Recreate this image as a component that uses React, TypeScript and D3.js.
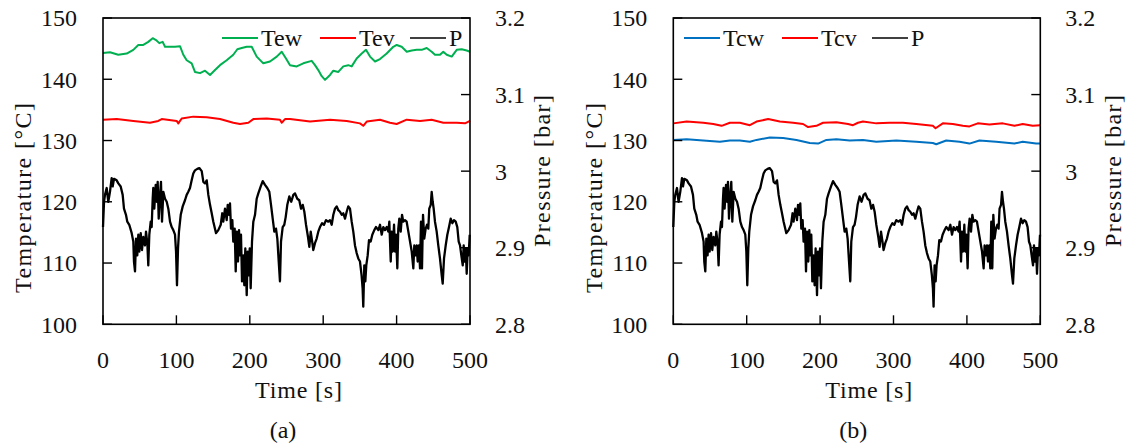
import React from 'react';
import * as d3 from 'd3';

// ---------- data ----------
const timeTicks = [0, 100, 200, 300, 400, 500];
const tempTicks = [100, 110, 120, 130, 140, 150];
const presTicks = [2.8, 2.9, 3.0, 3.1, 3.2];
const presTickLabels = ['2.8', '2.9', '3', '3.1', '3.2'];

// Pressure P [bar] (same in both panels)
const pTime = [
  0, 1.4, 2.7, 5.0, 7.2, 9.5, 11.8, 13.2, 15.0, 18.6, 20.9, 24.1, 26.8, 28.6, 31.3, 33.1, 35.8, 39.1, 41.3, 42.2,
  43.6, 45.0, 46.7, 48.1, 49.5, 51.4, 53.1, 54.9, 57.2, 58.6, 60.4, 61.7, 63.1, 65.0, 66.3, 67.7, 68.5, 69.9, 71.8, 73.2,
  74.5, 75.9, 77.7, 79.0, 80.4, 82.2, 84.5, 86.8, 89.0, 91.3, 93.6, 95.8, 98.1, 99.5, 100.8, 102.2, 103.5, 105.9, 108.6, 111.7,
  114.0, 116.2, 118.5, 120.8, 123.0, 125.3, 128.5, 131.2, 134.5, 136.7, 139.0, 141.3, 143.5, 145.8, 148.1, 150.3, 154.0, 157.1, 160.4, 162.5,
  163.9, 166.2, 168.5, 169.9, 171.7, 173.0, 174.4, 176.2, 177.5, 179.4, 180.8, 182.2, 183.9, 185.3, 186.6, 188.0, 189.4, 191.1, 192.5, 193.9,
  195.8, 197.1, 198.5, 199.9, 201.2, 203.0, 204.8, 207.1, 209.4, 211.6, 214.9, 217.6, 220.7, 223.8, 226.6, 228.9, 231.2, 233.4, 235.7, 237.5,
  239.4, 241.1, 242.5, 244.8, 247.0, 248.9, 251.1, 253.8, 256.5, 259.3, 261.6, 264.7, 267.4, 269.8, 272.1, 274.3, 276.6, 279.3, 281.1, 283.0,
  284.7, 286.5, 288.8, 291.1, 293.3, 295.6, 298.4, 301.1, 303.8, 306.9, 309.3, 311.6, 313.8, 316.1, 318.4, 320.6, 322.9, 325.2, 327.4, 329.7,
  332.0, 334.2, 336.5, 338.8, 341.0, 343.3, 345.6, 347.8, 350.1, 352.3, 353.7, 354.6, 356.0, 357.4, 358.7, 360.6, 362.4, 364.7, 366.9, 369.6,
  371.9, 375.1, 377.4, 379.7, 381.9, 384.2, 386.5, 388.7, 390.1, 392.0, 393.3, 394.7, 396.5, 397.8, 399.2, 401.0, 402.3, 403.7, 405.6, 407.4,
  409.1, 411.4, 413.7, 416.0, 418.3, 420.6, 422.8, 424.1, 426.0, 427.4, 428.7, 430.5, 431.9, 433.2, 434.6, 436.0, 437.7, 439.6, 441.4, 443.2,
  444.5, 446.5, 447.8, 449.2, 450.5, 452.3, 454.6, 456.8, 459.1, 461.5, 462.8, 464.6, 466.9, 469.1, 471.4, 473.7, 475.9, 478.2, 480.5, 482.7,
  484.6, 486.4, 488.2, 490.1, 491.4, 492.8, 494.2, 495.5, 496.9, 498.2, 499.6,
];
const pValue = [
  2.927, 2.960, 2.969, 2.978, 2.960, 2.973, 2.991, 2.980, 2.990, 2.988, 2.984, 2.980, 2.969, 2.951, 2.943, 2.934, 2.930, 2.919, 2.908, 2.882,
  2.869, 2.912, 2.890, 2.917, 2.895, 2.919, 2.897, 2.914, 2.903, 2.921, 2.906, 2.877, 2.917, 2.934, 2.927, 2.964, 2.978, 2.951, 2.982, 2.960,
  2.986, 2.938, 2.969, 2.986, 2.934, 2.973, 2.964, 2.960, 2.951, 2.934, 2.927, 2.923, 2.917, 2.895, 2.851, 2.899, 2.921, 2.943, 2.954, 2.962,
  2.969, 2.973, 2.978, 2.988, 2.997, 3.001, 3.003, 3.004, 3.000, 2.986, 2.984, 2.988, 2.969, 2.956, 2.945, 2.934, 2.919, 2.923, 2.930, 2.945,
  2.934, 2.951, 2.936, 2.956, 2.943, 2.958, 2.925, 2.936, 2.908, 2.925, 2.869, 2.921, 2.882, 2.923, 2.890, 2.917, 2.856, 2.890, 2.851, 2.899,
  2.838, 2.895, 2.864, 2.899, 2.847, 2.908, 2.934, 2.943, 2.964, 2.971, 2.980, 2.987, 2.982, 2.978, 2.973, 2.956, 2.938, 2.921, 2.925, 2.912,
  2.882, 2.856, 2.908, 2.927, 2.930, 2.940, 2.956, 2.967, 2.960, 2.969, 2.971, 2.964, 2.962, 2.951, 2.956, 2.947, 2.930, 2.914, 2.901, 2.921,
  2.910, 2.897, 2.906, 2.912, 2.921, 2.927, 2.932, 2.930, 2.936, 2.934, 2.936, 2.930, 2.943, 2.951, 2.954, 2.949, 2.947, 2.943, 2.945, 2.938,
  2.947, 2.954, 2.951, 2.934, 2.921, 2.903, 2.893, 2.886, 2.882, 2.864, 2.847, 2.823, 2.877, 2.856, 2.877, 2.890, 2.910, 2.908, 2.917, 2.923,
  2.927, 2.923, 2.930, 2.917, 2.927, 2.923, 2.927, 2.921, 2.934, 2.882, 2.921, 2.895, 2.930, 2.895, 2.917, 2.873, 2.925, 2.938, 2.921, 2.943,
  2.934, 2.936, 2.934, 2.921, 2.908, 2.895, 2.873, 2.903, 2.890, 2.903, 2.882, 2.903, 2.873, 2.934, 2.873, 2.943, 2.912, 2.925, 2.930, 2.925,
  2.951, 2.956, 2.973, 2.960, 2.951, 2.934, 2.921, 2.903, 2.886, 2.864, 2.853, 2.886, 2.903, 2.917, 2.927, 2.938, 2.932, 2.936, 2.934, 2.927,
  2.908, 2.903, 2.890, 2.877, 2.903, 2.882, 2.899, 2.866, 2.899, 2.890, 2.917,
];

// Tew [°C]
const tewTime = [
  0, 9.5, 20.8, 32.3, 41.3, 48.1, 54.9, 61.7, 67.7, 72.2, 76.7, 81.3, 84.5, 91.3, 98.1, 104.9, 109.4, 114.0, 120.8, 125.3,
  132.2, 139.0, 145.8, 152.6, 159.4, 168.5, 177.5, 183.0, 189.0, 195.8, 202.6, 209.4, 218.4, 227.5, 236.7, 243.5, 249.3, 254.8, 263.9, 272.9,
  284.3, 288.8, 293.3, 298.0, 302.5, 309.3, 313.8, 320.6, 327.4, 334.2, 338.8, 345.6, 352.5, 358.3, 363.8, 370.6, 377.4, 386.5, 395.5, 400.1,
  406.9, 413.8, 420.6, 427.4, 434.2, 441.0, 447.8, 452.3, 459.1, 463.6, 468.3, 475.1, 481.9, 488.7, 495.5, 500,
];
const tewValue = [
  144.3, 144.4, 144.0, 144.2, 144.8, 145.6, 145.6, 146.1, 146.7, 146.4, 145.9, 146.1, 145.3, 145.3, 145.3, 145.4, 144.0, 143.1, 142.6, 141.2,
  141.0, 141.4, 140.7, 141.5, 142.3, 143.1, 144.0, 144.9, 145.1, 145.3, 145.3, 143.7, 142.6, 142.9, 143.7, 144.5, 143.4, 142.3, 142.1, 142.6,
  143.0, 142.3, 141.5, 140.5, 139.9, 140.7, 141.4, 141.2, 142.1, 142.3, 142.1, 143.4, 144.2, 144.8, 143.7, 142.9, 143.3, 144.2, 145.3, 145.6,
  145.3, 144.5, 144.7, 144.8, 144.8, 145.1, 144.5, 144.0, 144.0, 144.5, 144.0, 143.7, 144.8, 144.9, 144.7, 144.5,
];

// Tev [°C]
const tevTime = [
  0, 18.7, 41.3, 64.0, 75.3, 80.0, 100.4, 102.6, 107.2, 123.0, 141.3, 159.4, 177.5, 186.6, 198.0, 204.8, 223.0, 241.1, 243.5, 248.0,
  254.8, 282.0, 309.3, 332.0, 350.1, 354.6, 359.3, 377.4, 391.0, 400.1, 413.8, 431.9, 447.8, 463.6, 481.9, 493.2, 500,
];
const tevValue = [
  133.4, 133.5, 133.2, 132.9, 133.2, 133.5, 133.2, 132.8, 133.6, 133.9, 133.8, 133.5, 132.9, 132.7, 132.9, 133.5, 133.6, 133.4, 132.9, 133.5,
  133.5, 133.1, 133.4, 133.2, 132.8, 132.4, 133.1, 133.4, 132.9, 132.7, 133.4, 133.2, 133.4, 132.9, 132.9, 132.8, 133.2,
];

// Tcw [°C]
const tcwTime = [
  0, 18.2, 40.8, 63.5, 77.1, 90.7, 104.3, 113.4, 131.5, 149.7, 167.8, 185.9, 197.3, 208.6, 222.2, 240.4, 258.4, 276.6, 303.8, 331.0,
  353.6, 358.2, 371.8, 389.9, 403.5, 417.1, 439.8, 464.7, 476.0, 494.2, 500,
];
const tcwValue = [
  130.1, 130.2, 130.0, 129.8, 130.0, 130.0, 129.8, 130.1, 130.5, 130.4, 130.1, 129.6, 129.5, 130.1, 130.2, 130.0, 130.1, 129.8, 130.0, 129.8,
  129.6, 129.4, 130.0, 129.8, 129.5, 130.0, 129.8, 129.5, 129.8, 129.5, 129.5,
];

// Tcv [°C]
const tcvTime = [
  0, 18.2, 40.8, 54.4, 65.8, 77.1, 90.7, 104.3, 113.4, 129.2, 145.1, 163.2, 176.8, 183.6, 195.0, 204.0, 222.2, 238.0, 244.8, 251.6,
  258.4, 276.6, 294.7, 312.8, 331.0, 353.6, 357.3, 367.2, 380.8, 394.4, 403.5, 414.8, 430.7, 448.8, 464.7, 476.0, 489.6, 500,
];
const tcvValue = [
  132.8, 133.1, 132.9, 132.7, 132.4, 132.9, 132.9, 132.5, 133.1, 133.5, 133.1, 132.9, 132.7, 132.2, 132.4, 132.9, 133.0, 132.7, 132.5, 132.9,
  133.1, 132.8, 132.9, 132.9, 132.7, 132.4, 132.0, 132.8, 132.7, 132.4, 132.3, 132.8, 132.6, 132.8, 132.4, 132.7, 132.4, 132.5,
];

// ---------- layout ----------
const W = 1135;
const H = 448;
const FONT = '"Liberation Serif", "Times New Roman", serif';
const FS = 24;
const GREEN = '#00B050';
const RED = '#FF0000';
const BLUE = '#0070C0';

type Series = { name: string; color: string; time: number[]; value: number[]; axis: 'T' | 'P'; width: number };

function Panel({ ox, series, legendOffsets, caption }: { ox: number; series: Series[]; legendOffsets: number[]; caption: string }) {
  const left = ox + 103;
  const right = ox + 470;
  const top = 18;
  const bottom = 324.3;
  const x = d3.scaleLinear().domain([0, 500]).range([left, right]);
  const yT = d3.scaleLinear().domain([100, 150]).range([bottom, top]);
  const yP = d3.scaleLinear().domain([2.8, 3.2]).range([bottom, top]);
  const tick = 9;

  const lineFor = (s: Series) => {
    const ys = s.axis === 'T' ? yT : yP;
    const pts = s.time.map((t, i) => [t, s.value[i]] as [number, number]);
    return d3.line<[number, number]>().x((d) => x(d[0])).y((d) => ys(d[1]))(pts) || '';
  };

  const legendOrder = [...series].sort((a, b) => (a.axis === 'P' ? 1 : 0) - (b.axis === 'P' ? 1 : 0));

  return (
    <g>
      {series
        .filter((s) => s.axis === 'P')
        .map((s) => (
          <path key={s.name} d={lineFor(s)} fill="none" stroke={s.color} strokeWidth={s.width} strokeLinejoin="round" />
        ))}
      {series
        .filter((s) => s.axis === 'T')
        .map((s) => (
          <path key={s.name} d={lineFor(s)} fill="none" stroke={s.color} strokeWidth={s.width} strokeLinejoin="round" />
        ))}

      <rect x={left} y={top} width={right - left} height={bottom - top} fill="none" stroke="#000" strokeWidth={1.6} />

      {tempTicks.map((v) => (
        <g key={'t' + v}>
          <line x1={left} x2={left + tick} y1={yT(v)} y2={yT(v)} stroke="#000" strokeWidth={1.4} />
          <text x={left - 26} y={yT(v)} dy="0.35em" textAnchor="end" fontSize={FS} fontFamily={FONT} fill="#111">
            {v}
          </text>
        </g>
      ))}
      {presTicks.map((v, i) => (
        <g key={'p' + v}>
          <line x1={right - tick} x2={right} y1={yP(v)} y2={yP(v)} stroke="#000" strokeWidth={1.4} />
          <text x={right + 25} y={yP(v)} dy="0.35em" textAnchor="start" fontSize={FS} fontFamily={FONT} fill="#111">
            {presTickLabels[i]}
          </text>
        </g>
      ))}
      {timeTicks.map((v) => (
        <g key={'x' + v}>
          <line x1={x(v)} x2={x(v)} y1={bottom} y2={bottom - tick} stroke="#000" strokeWidth={1.4} />
          <text x={x(v)} y={368} textAnchor="middle" fontSize={FS} fontFamily={FONT} fill="#111">
            {v}
          </text>
        </g>
      ))}

      <text
        x={left - 80}
        y={198}
        transform={`rotate(-90 ${left - 80} 198)`}
        textAnchor="middle"
        dy="0.35em"
        fontSize={FS}
        fontFamily={FONT}
        fill="#111"
        textLength={190}
        lengthAdjust="spacing"
      >
        Temperature [°C]
      </text>
      <text
        x={right + 72}
        y={171}
        transform={`rotate(-90 ${right + 72} 171)`}
        textAnchor="middle"
        dy="0.35em"
        fontSize={FS}
        fontFamily={FONT}
        fill="#111"
        textLength={152}
        lengthAdjust="spacing"
      >
        Pressure [bar]
      </text>
      <text x={(left + right) / 2 + 12} y={398} textAnchor="middle" fontSize={FS} fontFamily={FONT} fill="#111" textLength={87} lengthAdjust="spacing">
        Time [s]
      </text>
      <text x={ox + 283} y={438} textAnchor="middle" fontSize={FS} fontFamily={FONT} fill="#111">
        {caption}
      </text>

      {legendOrder.map((s, i) => {
        const lx = left + legendOffsets[i];
        return (
          <g key={'lg' + s.name}>
            <line x1={lx} x2={lx + 36} y1={38} y2={38} stroke={s.color} strokeWidth={s.axis === 'P' ? 1.6 : 2} />
            <text x={lx + 39} y={46} fontSize={FS} fontFamily={FONT} fill="#111">
              {s.name}
            </text>
          </g>
        );
      })}
    </g>
  );
}

export default function App() {
  const seriesA: Series[] = [
    { name: 'Tew', color: GREEN, time: tewTime, value: tewValue, axis: 'T', width: 2 },
    { name: 'Tev', color: RED, time: tevTime, value: tevValue, axis: 'T', width: 2 },
    { name: 'P', color: '#000', time: pTime, value: pValue, axis: 'P', width: 2.3 },
  ];
  const seriesB: Series[] = [
    { name: 'Tcw', color: BLUE, time: tcwTime, value: tcwValue, axis: 'T', width: 2 },
    { name: 'Tcv', color: RED, time: tcvTime, value: tcvValue, axis: 'T', width: 2 },
    { name: 'P', color: '#000', time: pTime, value: pValue, axis: 'P', width: 2.3 },
  ];
  return (
    <svg width={W} height={H} viewBox={`0 0 ${W} ${H}`} style={{ position: 'absolute', left: 0, top: 0, background: '#fff' }}>
      <rect width={W} height={H} fill="#fff" />
      <Panel ox={0} series={seriesA} legendOffsets={[119, 217, 307]} caption="(a)" />
      <Panel ox={570.3} series={seriesB} legendOffsets={[10.7, 108.7, 198.7]} caption="(b)" />
    </svg>
  );
}
